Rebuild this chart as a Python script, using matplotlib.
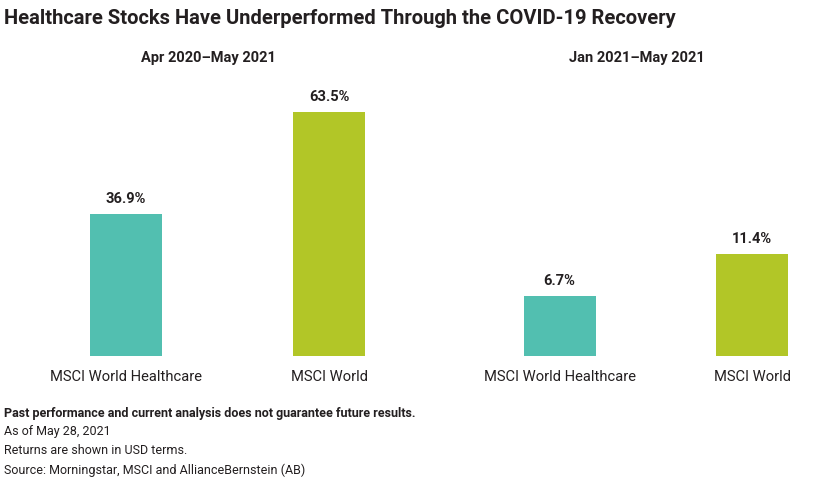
import matplotlib
matplotlib.use("Agg")
import matplotlib.pyplot as plt

W, H = 840, 478
DPI = 100

categories = ["MSCI World Healthcare", "MSCI World"]
period_titles = ["Apr 2020\u2013May 2021", "Jan 2021\u2013May 2021"]
values_left = [36.9, 63.5]
values_right = [6.7, 11.4]
colors = ["#52BFB0", "#B2C627"]

title = "Healthcare Stocks Have Underperformed Through the COVID-19 Recovery"
notes_bold = "Past performance and current analysis does not guarantee future results."
notes = ["As of May 28, 2021", "Returns are shown in USD terms.",
         "Source: Morningstar, MSCI and AllianceBernstein (AB)"]

TXT = "#231f20"
fig = plt.figure(figsize=(W / DPI, H / DPI), dpi=DPI)


def px_axes(x0, x1, ybot, ytop):
    return fig.add_axes([x0 / W, (H - ybot) / H, (x1 - x0) / W, (ybot - ytop) / H])


def draw_panel(ax, vals, width):
    x = list(range(len(vals)))
    bars = ax.bar(x, vals, width=width, color=colors)
    ax.set_ylim(0, max(vals))
    for b, v in zip(bars, vals):
        ax.annotate(f"{v:.1f}%", (b.get_x() + b.get_width() / 2, v), xytext=(0, 6),
                    textcoords="offset points", ha="center", va="bottom",
                    fontsize=10.5, fontweight="bold", color=TXT, family="Roboto",
                    annotation_clip=False)
    ax.set_xticks(x)
    ax.set_xticklabels(categories, fontsize=10.6, color=TXT, family="Roboto")
    ax.tick_params(axis="x", length=0, pad=10)
    ax.set_yticks([])
    for s in ax.spines.values():
        s.set_visible(False)


# left panel: centers at 126 and 329.5 px
axL = px_axes(24.25, 431.25, 356, 112)
axL.set_xlim(-0.5, 1.5)
draw_panel(axL, values_left, 72 / 203.5)

# right panel: centers at 559.5 and 752 px
axR = px_axes(559.5 - 0.5 * 192.5, 752 + 0.4 * 192.5, 356, 254)
axR.set_xlim(-0.5, 1.4)
draw_panel(axR, values_right, 72 / 192.5)

for cx, t in zip([208, 637], period_titles):
    fig.text(cx / W, 1 - 58 / H, t, fontsize=10.5, fontweight="bold", color=TXT,
             family="Roboto", va="center", ha="center")

fig.text(4 / W, 1 - 18 / H, title, fontsize=14.5, fontweight="bold", color=TXT,
         family="Roboto", va="center", ha="left")

fig.text(4 / W, 1 - 413 / H, notes_bold, fontsize=9, fontweight="bold", color=TXT,
         family="Roboto", va="center", ha="left")
for i, t in enumerate(notes):
    fig.text(4 / W, 1 - (432 + 19 * i) / H, t, fontsize=9, color=TXT,
             family="Roboto", va="center", ha="left")

fig.savefig("out.png", dpi=DPI)
